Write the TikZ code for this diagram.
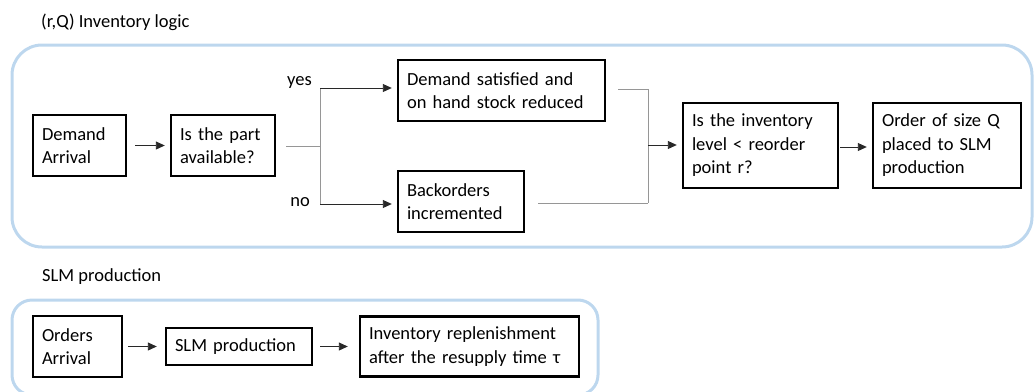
\documentclass[tikz,border=0pt]{standalone}
\usepackage{fontspec}
\setmainfont{Carlito}
\usetikzlibrary{arrows.meta}
\definecolor{frameblue}{RGB}{189,215,238}
\definecolor{linkgray}{RGB}{150,150,150}
\definecolor{arrowgray}{RGB}{40,40,40}

\begin{document}
\begin{tikzpicture}[x=1pt,y=-1pt,
  every node/.style={font=\fontsize{18.5}{23.5}\selectfont},
  box/.style={draw=black,line width=2.4pt,align=left,inner xsep=9pt,inner ysep=0pt,minimum height=61pt,
    execute at begin node={\hyphenpenalty=10000\exhyphenpenalty=10000}},
  group/.style={draw=frameblue,line width=3pt},
  link/.style={draw=arrowgray,line width=0.9pt,-{Triangle[length=9pt,width=8pt]}},
  stub/.style={draw=linkgray,line width=1pt},
  caption/.style={anchor=west,inner sep=0pt},
  branch/.style={anchor=east,inner sep=0pt}]

\useasboundingbox (0,0) rectangle (1035,391);

% group frames
\draw[group,rounded corners=30pt] (12,45) rectangle (1032,247);
\draw[group,rounded corners=20pt] (12,300) rectangle (598,395);

% titles
\node[caption] (t1) at (41,22) {(r,Q) Inventory logic};
\node[caption] (t2) at (42,277) {SLM production};

% inventory logic steps
\node[box,text width=75pt] (da) at (79.5,145.5) {Demand\\Arrival};
\node[box,text width=86pt] (pa) at (223,145.5) {Is the part\\available?};
\node[box,text width=189pt] (ds) at (501.5,90.5) {Demand satisfied and\\on hand stock reduced};
\node[box,text width=108pt] (bo) at (461,201.5) {Backorders\\incremented};
\node[box,text width=137pt,minimum height=85pt] (il) at (760.5,145.5) {Is the inventory\\level < reorder\\point r?};
\node[box,text width=130pt,minimum height=85pt] (oq) at (947,145.5) {Order of size Q\\placed to SLM\\production};

% SLM production steps
\node[box,text width=71pt,minimum height=61pt] (oa) at (77.5,346.5) {Orders\\Arrival};
\node[box,text width=128pt,minimum height=37pt] (sp) at (239,346.5) {SLM production};
\node[box,text width=201pt,minimum height=60pt] (ir) at (469.5,346.5) {Inventory replenishment\\after the resupply time τ};

% branch labels
\node[branch] (yes) at (312,83) {yes};
\node[branch] (no) at (310,202) {no};

% availability split
\coordinate (split) at (320,146);
\coordinate (sy) at (320,88);
\coordinate (sn) at (320,204);
\draw[link,shorten <=8pt,shorten >=5pt] (da.east) -- (pa.west);
\draw[stub,shorten <=10pt] (pa.east |- split) -- (split);
\draw[stub] (sy) -- (sn);
\draw[link,shorten >=5pt] (sy) -- (ds.west |- sy);
\draw[link,shorten >=5pt] (sn) -- (bo.west |- sn);

% merge into reorder check
\coordinate (my) at (648,89);
\coordinate (mm) at (648,145);
\coordinate (mn) at (648,203);
\draw[stub,shorten <=12pt] (ds.east |- my) -- (my);
\draw[stub,shorten <=13pt] (bo.east |- mn) -- (mn);
\draw[stub] (my) -- (mn);
\draw[link,shorten >=5pt] (mm) -- (il.west |- mm);
\draw[link,shorten <=1pt,shorten >=5pt] ([yshift=-1.5pt]il.east) -- ([yshift=-1.5pt]il.east -| oq.west);

% production flow
\draw[link,shorten <=5pt,shorten >=8pt] (oa.east) -- (sp.west);
\draw[link,shorten <=7pt,shorten >=11pt] (sp.east) -- (ir.west);
\end{tikzpicture}
\end{document}
